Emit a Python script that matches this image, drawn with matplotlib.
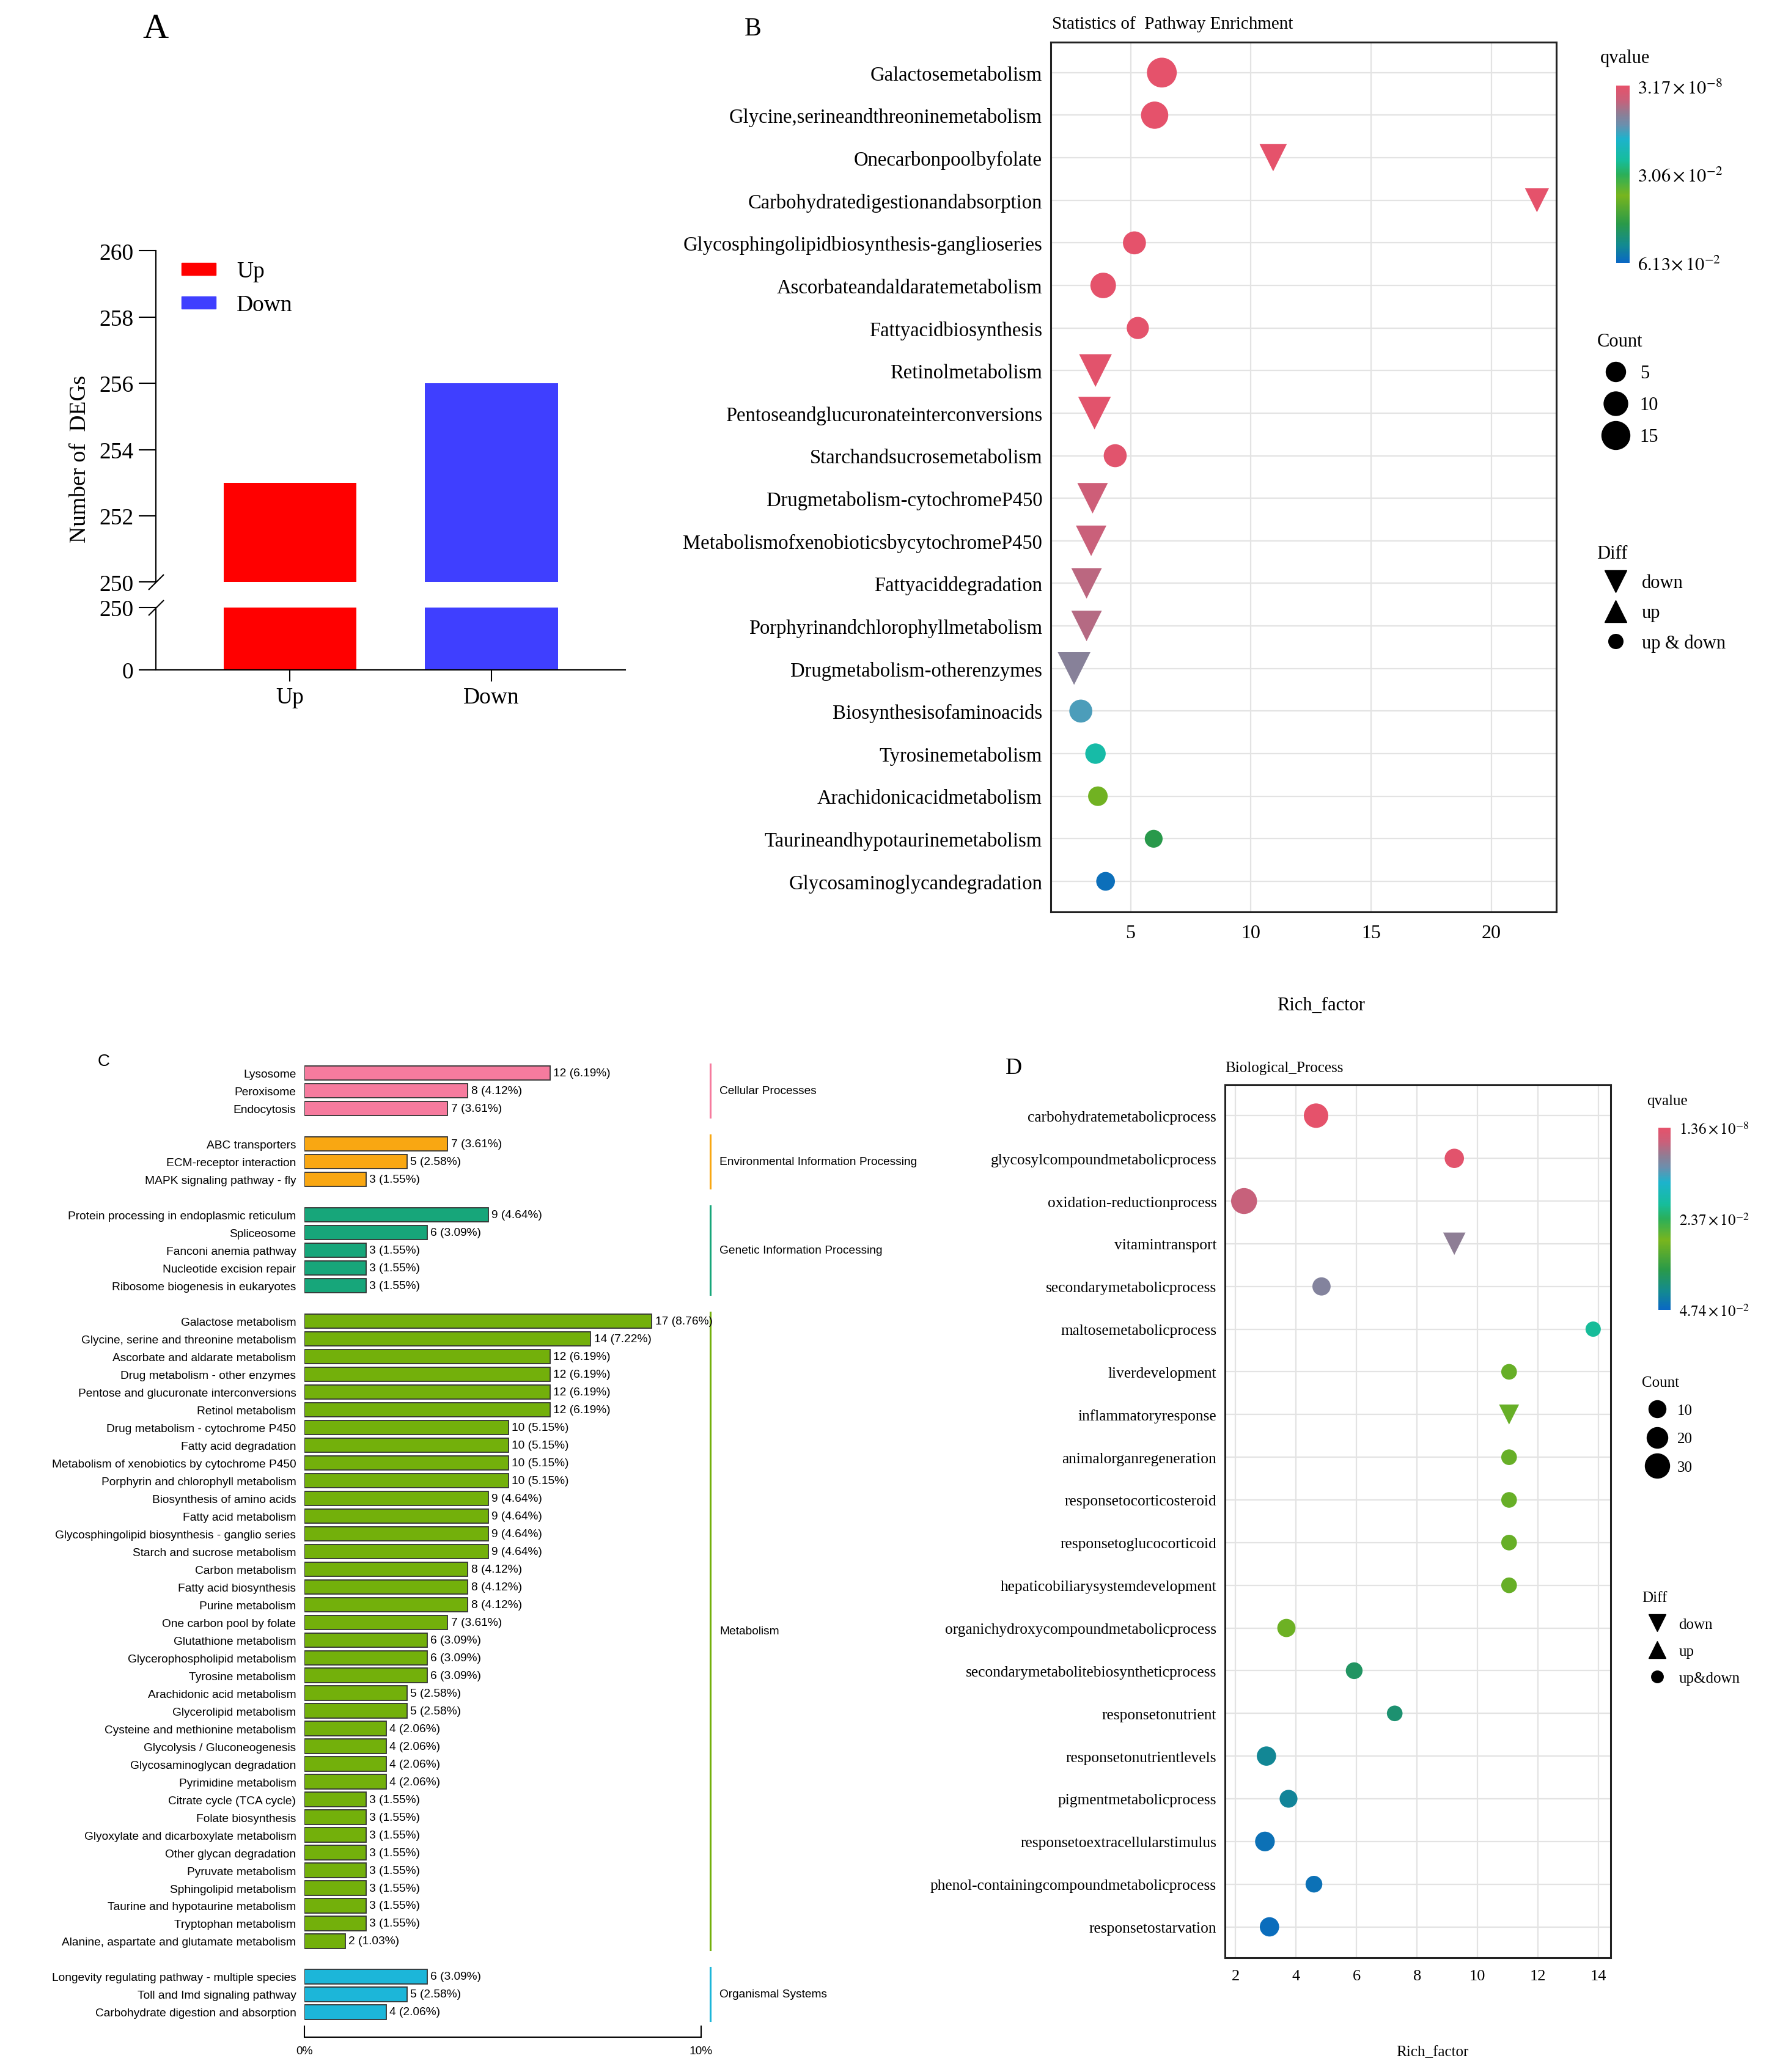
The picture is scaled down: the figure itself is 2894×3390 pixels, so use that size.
import numpy as np
import matplotlib
matplotlib.use("Agg")
import matplotlib.pyplot as plt
from matplotlib import font_manager
from matplotlib.colors import LinearSegmentedColormap, Normalize
from matplotlib.lines import Line2D
from matplotlib.patches import Patch

# ---------------- data ----------------
# A: number of DEGs
a_groups = ["Up", "Down"]
a_counts = [253, 256]
a_colors = ["#ff0000", "#3f3fff"]

# B: KEGG pathway enrichment
b_terms = ["Galactosemetabolism", "Glycine,serineandthreoninemetabolism",
           "Onecarbonpoolbyfolate", "Carbohydratedigestionandabsorption",
           "Glycosphingolipidbiosynthesis-ganglioseries", "Ascorbateandaldaratemetabolism",
           "Fattyacidbiosynthesis", "Retinolmetabolism",
           "Pentoseandglucuronateinterconversions", "Starchandsucrosemetabolism",
           "Drugmetabolism-cytochromeP450", "MetabolismofxenobioticsbycytochromeP450",
           "Fattyaciddegradation", "Porphyrinandchlorophyllmetabolism",
           "Drugmetabolism-otherenzymes", "Biosynthesisofaminoacids",
           "Tyrosinemetabolism", "Arachidonicacidmetabolism",
           "Taurineandhypotaurinemetabolism", "Glycosaminoglycandegradation"]
b_rich = [6.3, 6.0, 10.93, 21.9, 5.16, 3.86, 5.3, 3.54, 3.5, 4.36,
          3.42, 3.36, 3.17, 3.17, 2.65, 2.93, 3.54, 3.64, 5.96, 3.96]
b_count = [17, 14, 7, 4, 9, 12, 8, 12, 12, 9, 10, 10, 10, 10, 12, 9, 6, 5, 3, 4]
b_diff = ["both", "both", "down", "down", "both", "both", "both", "down", "down", "both",
          "down", "down", "down", "down", "down", "both", "both", "both", "both", "both"]
b_q = [3.17e-8, 1e-6, 1e-5, 2e-5, 1e-4, 2e-4, 3e-4, 5e-4, 6e-4, 8e-4,
       4.2e-3, 4.8e-3, 6.0e-3, 6.5e-3, 1.05e-2, 1.55e-2, 2.4e-2, 3.9e-2, 4.8e-2, 6.0e-2]
b_qticks = [3.17e-8, 3.06e-2, 6.13e-2]
b_qlabels = [r"$3.17\times10^{-8}$", r"$3.06\times10^{-2}$", r"$6.13\!\times10^{-2}$"]
b_size_breaks = [5, 10, 15]

# C: KEGG classification
c_group_names = ["Cellular Processes", "Environmental Information Processing",
                 "Genetic Information Processing", "Metabolism", "Organismal Systems"]
c_group_colors = ["#f67b9e", "#f9a712", "#17a67a", "#73b00b", "#1cb6d9"]
c_terms = ["Lysosome", "Peroxisome", "Endocytosis",
           "ABC transporters", "ECM-receptor interaction", "MAPK signaling pathway - fly",
           "Protein processing in endoplasmic reticulum", "Spliceosome", "Fanconi anemia pathway",
           "Nucleotide excision repair", "Ribosome biogenesis in eukaryotes",
           "Galactose metabolism", "Glycine, serine and threonine metabolism",
           "Ascorbate and aldarate metabolism", "Drug metabolism - other enzymes",
           "Pentose and glucuronate interconversions", "Retinol metabolism",
           "Drug metabolism - cytochrome P450", "Fatty acid degradation",
           "Metabolism of xenobiotics by cytochrome P450", "Porphyrin and chlorophyll metabolism",
           "Biosynthesis of amino acids", "Fatty acid metabolism",
           "Glycosphingolipid biosynthesis - ganglio series", "Starch and sucrose metabolism",
           "Carbon metabolism", "Fatty acid biosynthesis", "Purine metabolism",
           "One carbon pool by folate", "Glutathione metabolism", "Glycerophospholipid metabolism",
           "Tyrosine metabolism", "Arachidonic acid metabolism", "Glycerolipid metabolism",
           "Cysteine and methionine metabolism", "Glycolysis / Gluconeogenesis",
           "Glycosaminoglycan degradation", "Pyrimidine metabolism", "Citrate cycle (TCA cycle)",
           "Folate biosynthesis", "Glyoxylate and dicarboxylate metabolism",
           "Other glycan degradation", "Pyruvate metabolism", "Sphingolipid metabolism",
           "Taurine and hypotaurine metabolism", "Tryptophan metabolism",
           "Alanine, aspartate and glutamate metabolism",
           "Longevity regulating pathway - multiple species", "Toll and Imd signaling pathway",
           "Carbohydrate digestion and absorption"]
c_counts = [12, 8, 7,
            7, 5, 3,
            9, 6, 3, 3, 3,
            17, 14, 12, 12, 12, 12, 10, 10, 10, 10, 9, 9, 9, 9, 8, 8, 8, 7, 6, 6, 6,
            5, 5, 4, 4, 4, 4, 3, 3, 3, 3, 3, 3, 3, 3, 2,
            6, 5, 4]
c_pcts = [6.19, 4.12, 3.61,
          3.61, 2.58, 1.55,
          4.64, 3.09, 1.55, 1.55, 1.55,
          8.76, 7.22, 6.19, 6.19, 6.19, 6.19, 5.15, 5.15, 5.15, 5.15, 4.64, 4.64, 4.64, 4.64,
          4.12, 4.12, 4.12, 3.61, 3.09, 3.09, 3.09, 2.58, 2.58, 2.06, 2.06, 2.06, 2.06,
          1.55, 1.55, 1.55, 1.55, 1.55, 1.55, 1.55, 1.55, 1.03,
          3.09, 2.58, 2.06]
c_group_of = [0] * 3 + [1] * 3 + [2] * 5 + [3] * 36 + [4] * 3

# D: GO biological process
d_terms = ["carbohydratemetabolicprocess", "glycosylcompoundmetabolicprocess",
           "oxidation-reductionprocess", "vitamintransport", "secondarymetabolicprocess",
           "maltosemetabolicprocess", "liverdevelopment", "inflammatoryresponse",
           "animalorganregeneration", "responsetocorticosteroid", "responsetoglucocorticoid",
           "hepaticobiliarysystemdevelopment", "organichydroxycompoundmetabolicprocess",
           "secondarymetabolitebiosyntheticprocess", "responsetonutrient",
           "responsetonutrientlevels", "pigmentmetabolicprocess",
           "responsetoextracellularstimulus", "phenol-containingcompoundmetabolicprocess",
           "responsetostarvation"]
d_rich = [4.66, 9.23, 2.28, 9.23, 4.84, 13.82, 11.04, 11.04, 11.04, 11.04, 11.04, 11.04,
          3.68, 5.92, 7.26, 3.02, 3.75, 2.97, 4.59, 3.12]
d_count = [30, 16, 34, 11, 13, 5, 6, 6, 6, 6, 6, 6, 13, 9, 6, 16, 12, 17, 9, 16]
d_diff = ["both", "both", "both", "down", "both", "both", "both", "down", "both", "both",
          "both", "both", "both", "both", "both", "both", "both", "both", "both", "both"]
d_q = [1.36e-8, 5e-4, 4e-3, 7.5e-3, 8.5e-3, 2.0e-2, 3.1e-2, 3.1e-2, 3.1e-2, 3.1e-2,
       3.1e-2, 3.1e-2, 3.05e-2, 3.9e-2, 4.0e-2, 4.3e-2, 4.35e-2, 4.6e-2, 4.6e-2, 4.65e-2]
d_qticks = [1.36e-8, 2.37e-2, 4.74e-2]
d_qlabels = [r"$1.36\times10^{-8}$", r"$2.37\times10^{-2}$", r"$4.74\times10^{-2}$"]
d_size_breaks = [10, 20, 30]

# ---------------- style ----------------
serif = "Liberation Serif"
names = {f.name for f in font_manager.fontManager.ttflist}
narrow = "Liberation Sans Narrow" if "Liberation Sans Narrow" in names else "Liberation Sans"
c_fs = 15 if narrow == "Liberation Sans Narrow" else 13.8
plt.rcParams["font.family"] = serif
plt.rcParams["mathtext.fontset"] = "stix"

qcmap = LinearSegmentedColormap.from_list("qv", [
    (0.00, "#e5526b"), (0.08, "#c9607a"), (0.16, "#8c7f96"), (0.22, "#6a8fae"),
    (0.30, "#1cb3cc"), (0.42, "#16bd9c"), (0.50, "#2aaf5a"), (0.62, "#78b51e"),
    (0.78, "#2a9a48"), (0.90, "#138a90"), (1.00, "#0a68c4")])

W, H = 1330, 1558  # layout grid


def box(l, t, r, b):
    return [l / W, 1 - b / H, (r - l) / W, (b - t) / H]


def fx(x):
    return x / W


def fy(y):
    return 1 - y / H


fig = plt.figure(figsize=(28.94, 33.91), dpi=100)

# ================= A =================
ax_top = fig.add_axes(box(117, 189, 470, 438))
ax_bot = fig.add_axes(box(117, 457, 470, 504))
xa = np.arange(len(a_groups))
for ax in (ax_top, ax_bot):
    ax.bar(xa, a_counts, width=0.66, color=a_colors)
    ax.set_xlim(-0.667, 1.663)
    for s in ("top", "right"):
        ax.spines[s].set_visible(False)
    ax.spines["left"].set_linewidth(1.5)
    ax.spines["bottom"].set_linewidth(1.5)
    ax.tick_params(axis="y", length=20, width=1.5, labelsize=27, pad=6)
ax_top.set_ylim(250, 260)
ax_top.set_yticks(np.arange(250, 261, 2))
ax_top.spines["bottom"].set_visible(False)
ax_top.set_xticks([])
ax_bot.set_ylim(0, 250)
ax_bot.set_yticks([0, 250])
ax_bot.set_xticks(xa, a_groups)
ax_bot.tick_params(axis="x", length=14, width=1.5, labelsize=27, pad=6)
brk = dict(marker=[(-1, -1), (1, 1)], markersize=18, linestyle="none", color="k",
           mec="k", mew=1.5, clip_on=False)
ax_top.plot([0], [0], transform=ax_top.transAxes, **brk)
ax_bot.plot([0], [1], transform=ax_bot.transAxes, **brk)
ax_top.legend(handles=[Patch(color=c, label=l) for c, l in zip(a_colors, a_groups)],
              loc="upper left", bbox_to_anchor=(fx(121), fy(181)), bbox_transform=fig.transFigure,
              frameon=False, fontsize=27, handlelength=1.5, handleheight=0.45,
              handletextpad=0.9, labelspacing=0.55)
fig.text(fx(60), fy(345), "Number of  DEGs", rotation=90, ha="center", va="center", fontsize=27)
fig.text(fx(117), fy(22), "A", ha="center", va="center", fontsize=42)


# ================= B & D dot plots =================
def dot_panel(rect, terms, rich, count, diff, q, qticks, qlabels, breaks, xlim, xticks,
              dia, tri, fs, tick_fs, leg):
    ax = fig.add_axes(box(*rect))
    y = np.arange(len(terms))
    norm = Normalize(vmin=qticks[0], vmax=qticks[-1])
    rich = np.asarray(rich)
    count = np.asarray(count)
    q = np.asarray(q)
    diff = np.asarray(diff)
    for kind, mk, sc in (("down", "v", tri), ("up", "^", tri), ("both", "o", 1.0)):
        m = diff == kind
        if m.any():
            ax.scatter(rich[m], y[m], s=(dia(count[m]) * 0.72 * sc) ** 2, c=q[m], cmap=qcmap,
                       norm=norm, marker=mk, linewidths=0, zorder=3)
    ax.set_xlim(*xlim)
    ax.set_ylim(len(terms) - 1 + 0.72, -0.72)
    ax.set_xticks(xticks)
    ax.set_yticks(y, terms)
    ax.grid(True, color="#e3e3e3", linewidth=1.6)
    ax.set_axisbelow(True)
    for s in ax.spines.values():
        s.set_linewidth(2.2)
        s.set_color("#222222")
    ax.tick_params(axis="y", length=0, labelsize=fs, pad=10)
    ax.tick_params(axis="x", length=0, labelsize=tick_fs, pad=14)

    # legends
    lx = leg["x"]
    cax = fig.add_axes(box(leg["cb"][0], leg["cb"][1], leg["cb"][2], leg["cb"][3]))
    cb = fig.colorbar(plt.cm.ScalarMappable(norm=norm, cmap=qcmap), cax=cax)
    cb.outline.set_visible(False)
    cax.invert_yaxis()
    cb.set_ticks(qticks, labels=qlabels)
    cax.tick_params(length=0, labelsize=leg["fs"], pad=leg["cbpad"])
    fig.text(fx(lx), fy(leg["qy"]), "qvalue", fontsize=leg["fs"], va="center")

    h_size = [Line2D([], [], linestyle="none", marker="o", color="k",
                     markersize=dia(np.array(b)) * 0.72) for b in breaks]
    fig.legend(h_size, [str(b) for b in breaks], title="Count", loc="upper left",
               bbox_to_anchor=(fx(lx - 8), fy(leg["cy"])), frameon=False,
               fontsize=leg["fs"], title_fontsize=leg["fs"], alignment="left",
               labelspacing=leg["ls"], handletextpad=0.3, borderaxespad=0)
    h_diff = [Line2D([], [], linestyle="none", marker="v", color="k", markersize=leg["tri"]),
              Line2D([], [], linestyle="none", marker="^", color="k", markersize=leg["tri"]),
              Line2D([], [], linestyle="none", marker="o", color="k", markersize=leg["dot"])]
    fig.legend(h_diff, leg["diff_labels"], title="Diff", loc="upper left",
               bbox_to_anchor=(fx(lx - 8), fy(leg["dy"])), frameon=False,
               fontsize=leg["fs"], title_fontsize=leg["fs"], alignment="left",
               labelspacing=leg["dls"], handletextpad=0.4, borderaxespad=0)
    return ax


axb = dot_panel((790, 32, 1170, 686), b_terms, b_rich, b_count, b_diff, b_q, b_qticks, b_qlabels,
                b_size_breaks, (1.68, 22.7), [5, 10, 15, 20],
                lambda n: 25 + 1.4 * n, 1.28, 23.5, 23,
                dict(x=1203, cb=(1215, 65, 1225, 198), qy=44, cy=245, dy=404, fs=22, cbpad=10,
                     ls=0.75, dls=0.65, tri=26, dot=17, diff_labels=["down", "up", "up & down"]))
fig.text(fx(993), fy(756), "Rich_factor", ha="center", va="center", fontsize=22)
fig.text(fx(791), fy(18), "Statistics of  Pathway Enrichment", ha="left", va="center", fontsize=21)
fig.text(fx(566), fy(22), "B", ha="center", va="center", fontsize=30)

axd = dot_panel((921, 816, 1211, 1472), d_terms, d_rich, d_count, d_diff, d_q, d_qticks, d_qlabels,
                d_size_breaks, (1.65, 14.4), [2, 4, 6, 8, 10, 12, 14],
                lambda n: 22 + 0.6 * n, 1.28, 18.3, 19,
                dict(x=1238, cb=(1247, 848, 1256, 985), qy=828, cy=1030, dy=1192, fs=18, cbpad=10,
                     ls=0.95, dls=0.85, tri=20, dot=14, diff_labels=["down", "up", "up&down"]))
fig.text(fx(1077), fy(1543), "Rich_factor", ha="center", va="center", fontsize=18)
fig.text(fx(921), fy(803), "Biological_Process", ha="left", va="center", fontsize=18)
fig.text(fx(762), fy(803), "D", ha="center", va="center", fontsize=27)

# ================= C =================
axc = fig.add_axes(box(229, 800.3, 527, 1532))
pos = np.arange(len(c_terms)) + np.asarray(c_group_of)
colors = [c_group_colors[g] for g in c_group_of]
axc.barh(pos, c_pcts, height=0.8, color=colors, edgecolor="#333333", linewidth=1.3)
axc.set_ylim(pos[-1] + 1.43, -0.5)
axc.set_xlim(0, 10)
axc.set_yticks(pos, c_terms)
for t in axc.get_yticklabels():
    t.set_family(narrow)
axc.tick_params(axis="y", length=0, labelsize=c_fs, pad=10)
axc.set_xticks([0, 10], ["0%", "10%"], family=narrow)
axc.tick_params(axis="x", direction="in", length=14, width=1.5, labelsize=c_fs, pad=10)
for s in ("top", "right", "left"):
    axc.spines[s].set_visible(False)
axc.spines["bottom"].set_linewidth(1.5)
for p, n, pc in zip(pos, c_counts, c_pcts):
    axc.text(pc + 0.08, p, f"{n} ({pc:.2f}%)", va="center", ha="left",
             fontsize=c_fs, family=narrow)
for g, (gname, gcol) in enumerate(zip(c_group_names, c_group_colors)):
    gp = pos[np.asarray(c_group_of) == g]
    axc.plot([10.23, 10.23], [gp.min() - 0.5, gp.max() + 0.5], color=gcol, lw=2.2, clip_on=False)
    axc.text(10.47, (gp.min() + gp.max()) / 2, gname, va="center", ha="left",
             fontsize=c_fs, family=narrow)
fig.text(fx(78), fy(798), "C", ha="center", va="center", fontsize=20, family=narrow)

fig.savefig("out.png", dpi=100)
